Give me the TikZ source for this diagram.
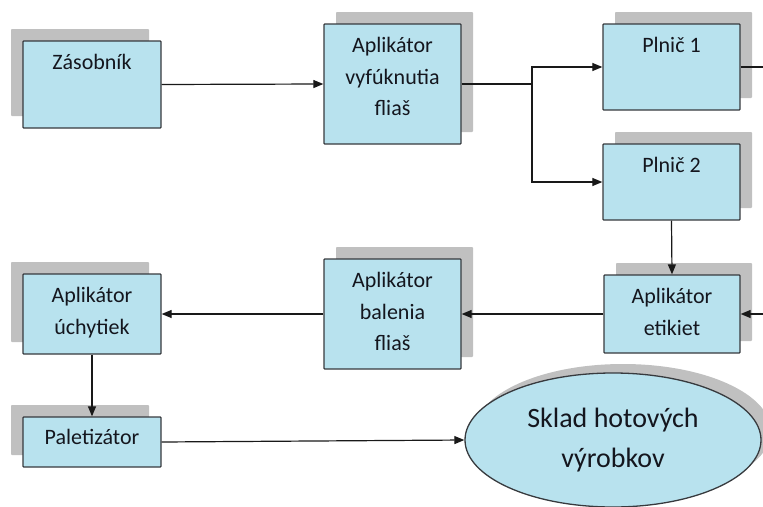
\documentclass[tikz,border=0pt]{standalone}
\usepackage{fontspec}
\setmainfont{Carlito}
\usetikzlibrary{shadows,arrows.meta,shapes.geometric}
\definecolor{boxfill}{RGB}{184,226,238}
\definecolor{shadowgray}{RGB}{192,192,192}
\definecolor{edgecol}{RGB}{55,58,62}
\definecolor{txtcol}{RGB}{20,22,30}
\tikzset{
  box/.style={draw=edgecol, line width=1.3pt, fill=boxfill, rounded corners=0.8pt, inner sep=0pt},
  shl/.style={general shadow={fill=shadowgray, draw=none, shadow xshift=-12pt, shadow yshift=12pt}},
  shr/.style={general shadow={fill=shadowgray, draw=none, shadow xshift=12pt, shadow yshift=12pt}},
  lbl/.style={anchor=north, yshift=-14pt, inner sep=0pt, align=center, text=txtcol,
    font=\fontsize{22}{31.5}\selectfont},
  arr/.style={line width=1.2pt, draw=black!90, -{Triangle[length=10pt,width=8pt]}},
  ln/.style={line width=1.2pt, draw=black!90},
}
\begin{document}
\begin{tikzpicture}[x=1pt,y=-1pt]
\useasboundingbox (0,0) rectangle (763,506);
% boxes
\node[box, shl, minimum width=138pt, minimum height=87pt,
  label={[lbl]north:Zásobník}] (zas) at (92,84.5) {};
\node[box, shr, minimum width=137pt, minimum height=120pt,
  label={[lbl]north:Aplikátor\\vyfúknutia\\fliaš}] (apv) at (392.5,84) {};
\node[box, shr, minimum width=137pt, minimum height=86pt,
  label={[lbl]north:Plnič 1}] (p1) at (671.5,67) {};
\node[box, shr, minimum width=137pt, minimum height=76pt,
  label={[lbl]north:Plnič 2}] (p2) at (671.5,182) {};
\node[box, shr, minimum width=136pt, minimum height=78pt,
  label={[lbl]north:Aplikátor\\etikiet}] (eti) at (672,314) {};
\node[box, shr, minimum width=137pt, minimum height=110pt,
  label={[lbl]north:Aplikátor\\balenia\\fliaš}] (bal) at (392.5,314) {};
\node[box, shl, minimum width=138pt, minimum height=80pt,
  label={[lbl]north:Aplikátor\\úchytiek}] (uch) at (92,314) {};
\node[box, shl, minimum width=138pt, minimum height=50pt,
  label={[lbl, yshift=1pt]north:Paletizátor}] (pal) at (92,442) {};
% ellipse
\node[ellipse, draw=edgecol, line width=1.3pt, fill=boxfill, inner sep=0pt,
  minimum width=296pt, minimum height=134pt, align=center, text=txtcol,
  font=\fontsize{28}{40}\selectfont,
  general shadow={fill=shadowgray, draw=none, shadow xshift=10pt, shadow yshift=9pt}]
  (ell) at (613,440) {Sklad hotových\\výrobkov};
% connectors
\coordinate (fork) at (532,84);
\coordinate (p1out) at (763,67);
\coordinate (etiin) at (763,314);
\draw[arr] (zas.east) -- (apv.west);
\draw[ln] (apv.east) -- (fork);
\draw[arr] (fork) |- (p1.west);
\draw[arr] (fork) |- (p2.west);
\draw[ln] (p1.east) -- (p1out);
\draw[arr] (p2.south) -- (eti.north);
\draw[arr] (etiin) -- (eti.east);
\draw[arr] (eti.west) -- (bal.east);
\draw[arr] (bal.west) -- (uch.east);
\draw[arr] (uch.south) -- (pal.north);
\draw[arr] (pal.east) -- (ell.west);
\end{tikzpicture}
\end{document}
